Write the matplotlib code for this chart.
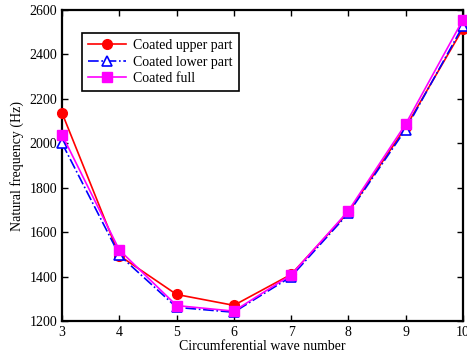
import numpy as np
import matplotlib
matplotlib.use("Agg")
import matplotlib.pyplot as plt

plt.rcParams['font.family'] = ['Liberation Serif', 'DejaVu Serif']
plt.rcParams['mathtext.fontset'] = 'stix'

wave_number = [3, 4, 5, 6, 7, 8, 9, 10]
upper = [2136, 1495, 1320, 1271, 1410, 1690, 2072, 2515]
lower = [2000, 1497, 1262, 1240, 1400, 1685, 2062, 2527]
full = [2038, 1520, 1270, 1245, 1408, 1696, 2086, 2555]

fig = plt.figure(figsize=(4.67, 3.58), dpi=100)
ax = fig.add_axes([0.133, 0.103, 0.858, 0.869])

ax.plot(wave_number, upper, color='red', lw=1.2, marker='o', ms=7,
        label='Coated upper part', clip_on=False, zorder=3)
ax.plot(wave_number, lower, color='blue', lw=1.2, ls='-.', marker='^', ms=7,
        mfc='white', mec='blue', mew=1.2, label='Coated lower part', clip_on=False, zorder=4)
ax.plot(wave_number, full, color='magenta', lw=1.2, marker='s', ms=7,
        label='Coated full', clip_on=False, zorder=5)

ax.set_xlim(3, 10)
ax.set_ylim(1200, 2600)
ax.set_xticks(wave_number)
ax.set_yticks(np.arange(1200, 2601, 200))
ax.tick_params(direction='in', top=True, right=True, labelsize=10, length=4, width=1, colors='black')
for s in ax.spines.values():
    s.set_linewidth(1.6)

ax.set_xlabel('Circumferential wave number', fontsize=10, labelpad=1)
ax.set_ylabel('Natural frequency (Hz)', fontsize=10, labelpad=4)

leg = ax.legend(loc='upper left', bbox_to_anchor=(0.05, 0.926), borderaxespad=0,
                fontsize=10, fancybox=False, edgecolor='black', framealpha=1,
                handlelength=2.7, handletextpad=0.5, borderpad=0.45, labelspacing=0.25)
leg.get_frame().set_linewidth(1.2)

fig.savefig('out.png', dpi=100)
